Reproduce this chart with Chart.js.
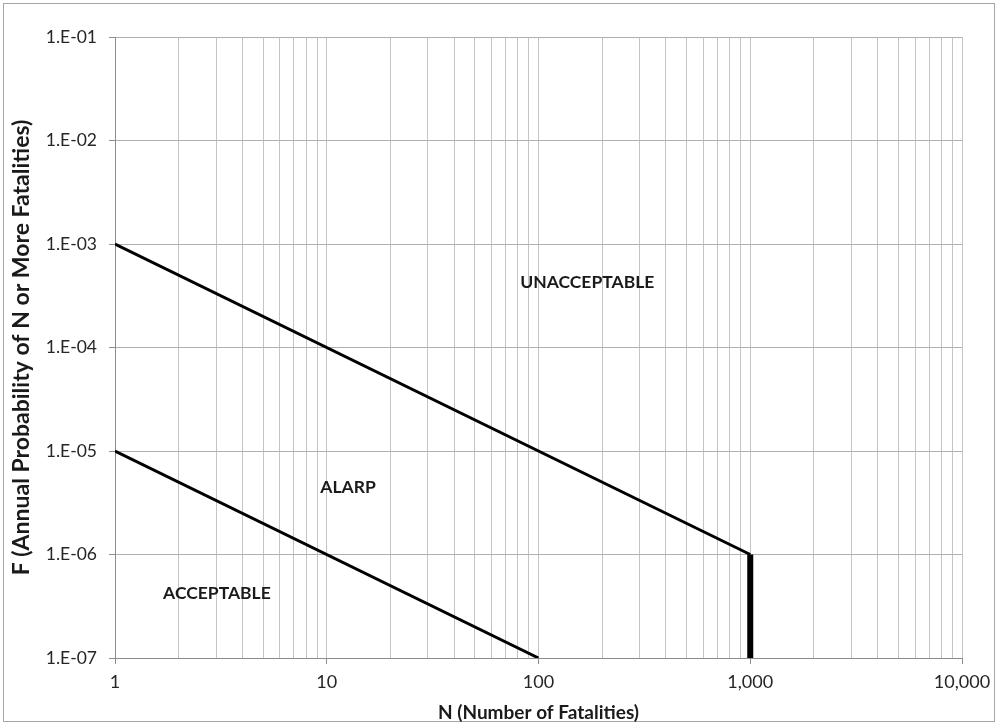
<!DOCTYPE html>
<html>
<head>
<meta charset="utf-8">
<script src="https://cdn.jsdelivr.net/npm/chart.js@4.4.1/dist/chart.umd.min.js"></script>
<style>
  html, body { margin: 0; padding: 0; background: #fff; }
  #wrap { width: 999px; height: 727px; position: relative; }
</style>
</head>
<body>
<div id="wrap"><canvas id="fnChart" width="999" height="727"></canvas></div>
<script>
// F-N criterion lines (N, F)
var upperN = [1, 1000];
var upperF = [1e-3, 1e-6];
var dropN = [1000, 1000];
var dropF = [1e-6, 1e-7];
var lowerN = [1, 100];
var lowerF = [1e-5, 1e-7];

// axis ticks
var xMajor = [1, 10, 100, 1000, 10000];
var xLabels = ["1", "10", "100", "1,000", "10,000"];
var yMajor = [1e-7, 1e-6, 1e-5, 1e-4, 1e-3, 1e-2, 1e-1];
var yLabels = ["1.E-07", "1.E-06", "1.E-05", "1.E-04", "1.E-03", "1.E-02", "1.E-01"];

// region labels
var zoneNames = ["UNACCEPTABLE", "ALARP", "ACCEPTABLE"];
var zoneN = [170, 12.6, 3.03];
var zoneF = [4.3e-4, 4.5e-6, 4.2e-7];

var FONT = "Lato, 'Liberation Sans', sans-serif";

function pts(xs, ys) {
  var out = [];
  for (var i = 0; i < xs.length; i++) out.push({ x: xs[i], y: ys[i] });
  return out;
}

// all x ticks: 1..9 per decade plus last major
var xAll = [];
for (var d = 0; d < xMajor.length - 1; d++) {
  for (var m = 1; m < 10; m++) xAll.push(xMajor[d] * m);
}
xAll.push(xMajor[xMajor.length - 1]);

function isMajorX(v) {
  return xMajor.some(function (m) { return Math.abs(m - v) < 1e-9 * m; });
}

var frame = {
  id: "frame",
  beforeDraw: function (chart) {
    var c = chart.ctx;
    c.save();
    c.fillStyle = "#fff";
    c.fillRect(0, 0, chart.width, chart.height);
    c.strokeStyle = "#a6a6a6";
    c.lineWidth = 1;
    c.strokeRect(3.5, 3.5, 991, 718);
    c.restore();
  }
};

var zones = {
  id: "zones",
  afterDatasetsDraw: function (chart) {
    var c = chart.ctx;
    var xs = chart.scales.x, ys = chart.scales.y;
    c.save();
    c.font = "bold 17.5px " + FONT;
    c.fillStyle = "#1a1a1a";
    c.textAlign = "center";
    c.textBaseline = "middle";
    for (var i = 0; i < zoneNames.length; i++) {
      c.fillText(zoneNames[i], xs.getPixelForValue(zoneN[i]), ys.getPixelForValue(zoneF[i]));
    }
    c.restore();
  }
};

new Chart(document.getElementById("fnChart"), {
  type: "line",
  data: {
    datasets: [
      { data: pts(upperN, upperF), borderColor: "#000", borderWidth: 3, pointRadius: 0 },
      { data: pts(dropN, dropF), borderColor: "#000", borderWidth: 6, pointRadius: 0 },
      { data: pts(lowerN, lowerF), borderColor: "#000", borderWidth: 3, pointRadius: 0 }
    ]
  },
  plugins: [frame, zones],
  options: {
    responsive: false,
    animation: false,
    layout: { padding: { top: 37, right: 37, left: 0, bottom: 0 } },
    plugins: { legend: { display: false }, tooltip: { enabled: false } },
    scales: {
      x: {
        type: "logarithmic",
        min: 1,
        max: 10000,
        afterFit: function (s) { s.height = 69; },
        afterBuildTicks: function (s) {
          s.ticks = xAll.map(function (v) { return { value: v, major: isMajorX(v) }; });
        },
        ticks: {
          autoSkip: false,
          maxRotation: 0,
          padding: 7,
          color: "#262626",
          font: { family: FONT, size: 18 },
          callback: function (v) {
            var k = xMajor.indexOf(v);
            return k >= 0 ? xLabels[k] : "";
          }
        },
        grid: {
          color: "#c4c4c4",
          lineWidth: 1,
          tickLength: 6,
          tickColor: function (ctx) {
            return ctx.tick && isMajorX(ctx.tick.value) ? "#8c8c8c" : "rgba(0,0,0,0)";
          }
        },
        border: { color: "#8c8c8c", width: 1 },
        title: {
          display: true,
          text: "N (Number of Fatalities)",
          color: "#1a1a1a",
          font: { family: FONT, size: 19, weight: "bold" },
          padding: { top: 0, bottom: 3 }
        }
      },
      y: {
        type: "logarithmic",
        min: 1e-7,
        max: 1e-1,
        afterFit: function (s) { s.width = 115; },
        afterBuildTicks: function (s) {
          s.ticks = yMajor.map(function (v) { return { value: v, major: true }; });
        },
        ticks: {
          autoSkip: false,
          padding: 12,
          color: "#262626",
          font: { family: FONT, size: 17.5 },
          callback: function (v, i) { return yLabels[i]; }
        },
        grid: {
          color: "#b0b0b0",
          lineWidth: 1,
          tickLength: 6,
          tickColor: "#8c8c8c"
        },
        border: { color: "#8c8c8c", width: 1 },
        title: {
          display: true,
          text: "F (Annual Probability of N or More Fatalities)",
          color: "#1a1a1a",
          font: { family: FONT, size: 23, weight: "bold" },
          padding: { top: 8, bottom: 0 }
        }
      }
    }
  }
});
</script>
</body>
</html>
